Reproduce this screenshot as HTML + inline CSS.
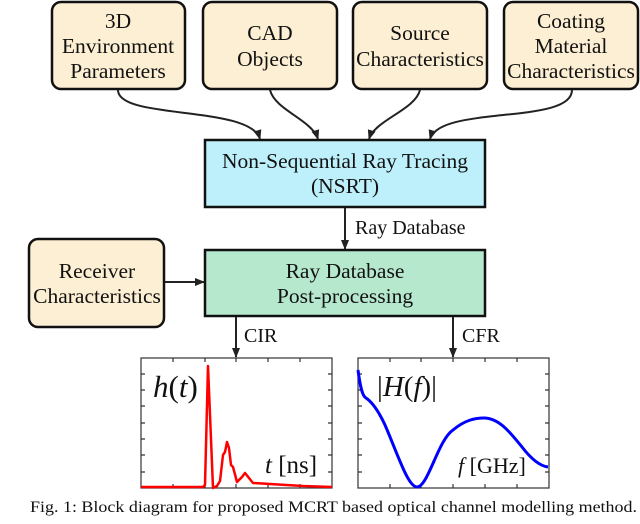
<!DOCTYPE html>
<html><head><style>
body{margin:0;background:#fff;}
svg{display:block;}
text{font-family:"Liberation Serif",serif;}
</style></head><body>
<svg width="640" height="524" viewBox="0 0 640 524" xmlns="http://www.w3.org/2000/svg" font-family="Liberation Serif, serif">
<defs>
<marker id="a" markerWidth="10" markerHeight="10" refX="9" refY="5" orient="auto" markerUnits="userSpaceOnUse">
<path d="M0,1 L10,5 L0,9 Z" fill="#222"/>
</marker>
</defs>
<g stroke="#111" stroke-width="2.5" fill="#fdefd3">
<rect x="52" y="2" width="133" height="87" rx="9"/>
<rect x="203" y="2" width="134" height="87" rx="9"/>
<rect x="353" y="2" width="134" height="87" rx="9"/>
<rect x="504" y="2" width="134" height="87" rx="9"/>
<rect x="29" y="239" width="135" height="88" rx="9"/>
</g>
<rect x="205" y="140" width="280" height="67" fill="#bdf0fb" stroke="#111" stroke-width="2.5"/>
<rect x="205" y="250" width="280" height="66" fill="#b6e8cd" stroke="#111" stroke-width="2.5"/>
<g font-size="21.5" text-anchor="middle" fill="#111">
<text x="118" y="28">3D</text><text x="118" y="53">Environment</text><text x="118" y="78">Parameters</text>
<text x="270" y="40">CAD</text><text x="270" y="66">Objects</text>
<text x="420" y="40">Source</text><text x="420" y="66">Characteristics</text>
<text x="571" y="28">Coating</text><text x="571" y="53">Material</text><text x="571" y="78">Characteristics</text>
<text x="345" y="168">Non-Sequential Ray Tracing</text><text x="345" y="193">(NSRT)</text>
<text x="345" y="278">Ray Database</text><text x="345" y="303">Post-processing</text>
<text x="97" y="278">Receiver</text><text x="97" y="303">Characteristics</text>
</g>
<g font-size="20" fill="#111">
<text x="355" y="234">Ray Database</text>
<text x="244" y="342">CIR</text>
<text x="462" y="342">CFR</text>
</g>
<g stroke="#222" stroke-width="2" fill="none" marker-end="url(#a)">
<path d="M118,90 C118,120 250,105 260,139"/>
<path d="M270,90 C275,110 312,120 318,139"/>
<path d="M420,90 C415,110 375,120 369,139"/>
<path d="M572,90 C572,125 440,105 430,139"/>
<path d="M345,208 L345,249"/>
<path d="M165,282 L204,282"/>
<path d="M236,317 L236,357"/>
<path d="M453,317 L453,357"/>
</g>
<g stroke="#333" stroke-width="1.2" fill="none">
<rect x="141" y="358" width="191" height="130"/>
<rect x="358" y="358" width="191" height="130"/>
<path d="M173,488v-4M205,488v-4M236,488v-4M268,488v-4M300,488v-4M173,358v4M205,358v4M236,358v4M268,358v4M300,358v4M141,374h4M141,390h4M141,406h4M141,423h4M141,439h4M141,455h4M141,472h4M332,374h-4M332,390h-4M332,406h-4M332,423h-4M332,439h-4M332,455h-4M332,472h-4"/>
<path d="M390,488v-4M421,488v-4M453,488v-4M485,488v-4M517,488v-4M390,358v4M421,358v4M453,358v4M485,358v4M517,358v4M358,374h4M358,390h4M358,406h4M358,423h4M358,439h4M358,455h4M358,472h4M549,374h-4M549,390h-4M549,406h-4M549,423h-4M549,439h-4M549,455h-4M549,472h-4"/>
</g>
<path d="M141,487 L203,487 L205,485 L208,366 L213,488 L217,486 L220,481 L223,455 L225,452 L227,442 L229,448 L231,465 L233,467 L237,482 L242,477 L245,473 L249,478 L253,483 L270,484 L303,486 L332,487" stroke="#f00" stroke-width="2.5" fill="none" stroke-linejoin="round"/>
<path d="M358,370 C360,385 362,396 366,398 C372,402 378,410 385,425 C398,455 408,487 417,487 C428,487 438,440 453,430 C465,420 475,418 484,418 C500,418 512,435 522,447 C532,460 540,466 548,467" stroke="#00f" stroke-width="3" fill="none"/>
<g fill="#111" font-style="italic">
<text x="153" y="397" font-size="31">h<tspan font-style="normal">(</tspan>t<tspan font-style="normal">)</tspan></text>
<text x="265" y="473" font-size="25">t <tspan font-style="normal">[ns]</tspan></text>
<text x="377" y="396" font-size="29"><tspan font-style="normal">|</tspan>H<tspan font-style="normal">(</tspan>f<tspan font-style="normal">)|</tspan></text>
<text x="458" y="473" font-size="22">f <tspan font-style="normal">[GHz]</tspan></text>
</g>
<text x="30" y="512" font-size="15.5" fill="#111" textLength="607" lengthAdjust="spacingAndGlyphs">Fig. 1: Block diagram for proposed MCRT based optical channel modelling method.</text>
</svg>
</body></html>
